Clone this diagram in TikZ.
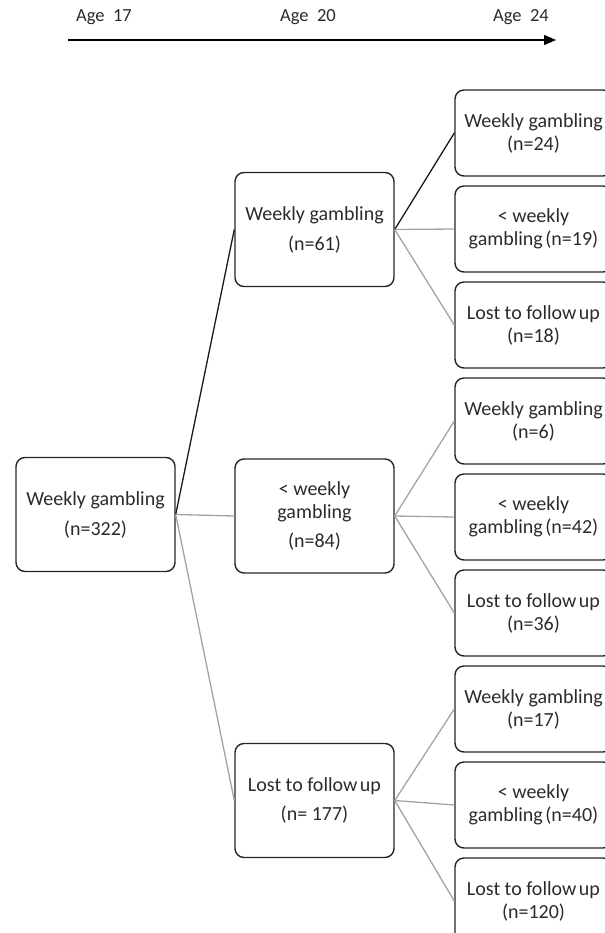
\documentclass[tikz,border=0pt]{standalone}
\usepackage{fontspec}
\setmainfont{Carlito}
\usetikzlibrary{arrows.meta}
\definecolor{txt}{HTML}{2B2B2B}
\definecolor{lgray}{HTML}{A3A3A3}
\definecolor{bord}{HTML}{262626}
\tikzset{
  box/.style={draw=bord, line width=1.4bp, rounded corners=9bp, align=center,
    text=txt, font=\fontsize{20bp}{23bp}\selectfont, inner sep=0pt},
  bigbox/.style={box, minimum width=159bp, minimum height=114bp},
  smallbox/.style={box, minimum width=157bp, minimum height=86bp},
  dark/.style={draw=black!90, line width=1.3bp},
  light/.style={draw=lgray, line width=1.3bp},
  agelbl/.style={text=txt, font=\fontsize{18.5bp}{22bp}\selectfont, inner sep=0pt}
}
\begin{document}
\begin{tikzpicture}[x=1bp, y=-1bp]
\useasboundingbox (0,0) rectangle (605,933);
% time axis
\node[agelbl] (l17) at (104,17) {Age~~17};
\node[agelbl] (l20) at (308,17) {Age~~20};
\node[agelbl] (l24) at (521,17) {Age~~24};
\coordinate (a0) at (68,40);
\coordinate (a1) at (556,40);
\draw[line width=1.3bp, -{Triangle[length=12bp,width=10bp]}] (a0) -- (a1);
% root
\node[bigbox] (root) at (95.5,514.5) {Weekly gambling\\[7bp](n=322)};
% age 20
\node[bigbox] (m1) at (314.5,229.5) {Weekly gambling\\[7bp](n=61)};
\node[bigbox] (m2) at (314.5,516) {< weekly\\gambling\\[6bp](n=84)};
\node[bigbox] (m3) at (314.5,800.5) {Lost to follow\hspace{-0.1em} up\\[6bp](n=~177)};
% age 24
\node[smallbox] (r1) at (533.5,133) {Weekly gambling\\(n=24)};
\node[smallbox] (r2) at (533.5,229) {< weekly\\gambling\hspace{-0.1em} (n=19)};
\node[smallbox] (r3) at (533.5,325) {Lost to follow\hspace{-0.1em} up\\(n=18)};
\node[smallbox] (r4) at (533.5,421) {Weekly gambling\\(n=6)};
\node[smallbox] (r5) at (533.5,517) {< weekly\\gambling\hspace{-0.1em} (n=42)};
\node[smallbox] (r6) at (533.5,613) {Lost to follow\hspace{-0.1em} up\\(n=36)};
\node[smallbox] (r7) at (533.5,709) {Weekly gambling\\(n=17)};
\node[smallbox] (r8) at (533.5,805) {< weekly\\gambling\hspace{-0.1em} (n=40)};
\node[smallbox] (r9) at (533.5,901) {Lost to follow\hspace{-0.1em} up\\(n=120)};
% connectors
\draw[dark] (root.east) -- (m1.west);
\draw[light] (root.east) -- (m2.west);
\draw[light] (root.east) -- (m3.west);
\draw[dark] (m1.east) -- (r1.west);
\draw[light] (m1.east) -- (r2.west);
\draw[light] (m1.east) -- (r3.west);
\draw[light] (m2.east) -- (r4.west);
\draw[light] (m2.east) -- (r5.west);
\draw[light] (m2.east) -- (r6.west);
\draw[light] (m3.east) -- (r7.west);
\draw[light] (m3.east) -- (r8.west);
\draw[light] (m3.east) -- (r9.west);
\end{tikzpicture}
\end{document}
